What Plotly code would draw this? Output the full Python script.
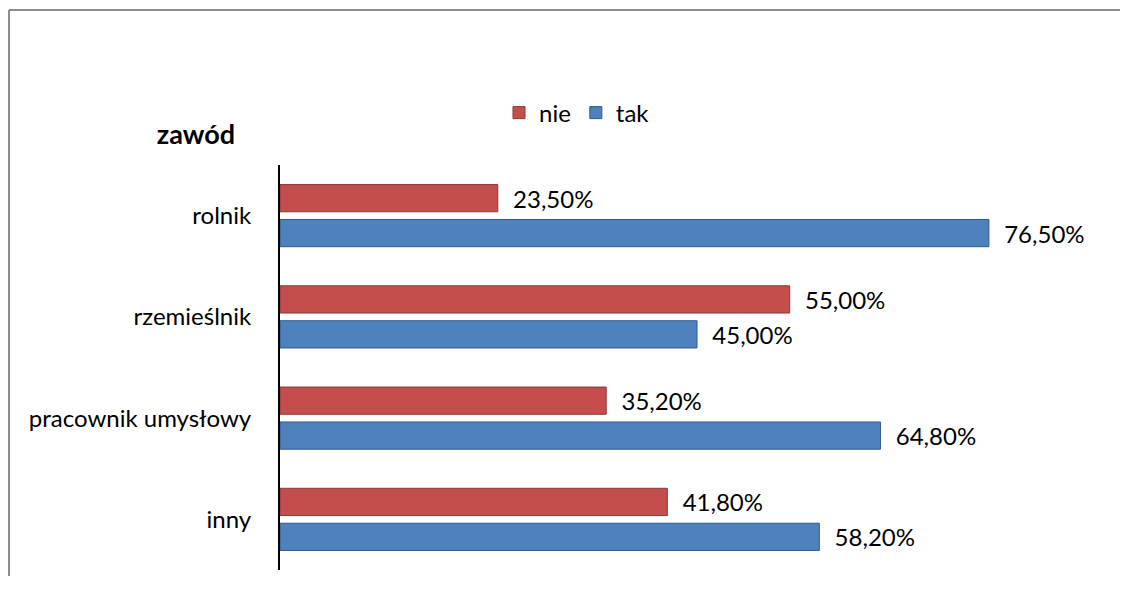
import plotly.graph_objects as go

categories = ["rolnik", "rzemieślnik", "pracownik umysłowy", "inny"]
nie_values = [23.5, 55.0, 35.2, 41.8]
tak_values = [76.5, 45.0, 64.8, 58.2]
series_names = ["nie", "tak"]

FONT = "Lato"
# page has an 8px body margin; keep the figure well inside the window
OFF = 8
W, H = 1132 - 2 * OFF - 4, 592 - 2 * OFF - 8
L, T = 280 - OFF, 165 - OFF
R = W - (1114 - OFF)
B = H - (570 - OFF)
FS = 24

fig = go.Figure()
fig.add_trace(go.Bar(
    y=categories, x=nie_values, name=series_names[0], orientation="h",
    marker=dict(color="#C44E4B", line=dict(color="#8C3836", width=1)),
    texttemplate="\u00a0\u00a0%{x:.2f}%", textposition="outside",
    textfont=dict(family=FONT, size=FS, color="#000000"),
    constraintext="none", cliponaxis=False,
))
fig.add_trace(go.Bar(
    y=categories, x=tak_values, name=series_names[1], orientation="h",
    marker=dict(color="#4F81BD", line=dict(color="#2C5A8E", width=1)),
    texttemplate="\u00a0\u00a0%{x:.2f}%", textposition="outside",
    textfont=dict(family=FONT, size=FS, color="#000000"),
    constraintext="none", cliponaxis=False,
))

pw = W - L - R
ph = H - T - B

bx0 = (1 - L) / pw
bx1 = (W + 20 - L) / pw
by0 = -(B + 20) / ph
by1 = 1 + (T - 2) / ph
border = dict(color="#8C8C8C", width=2)

fig.update_layout(
    width=W, height=H,
    margin=dict(l=L, r=R, t=T, b=B),
    paper_bgcolor="white", plot_bgcolor="white",
    separators=", ",
    barmode="group", bargap=0.31, bargroupgap=0.22,
    font=dict(family=FONT, size=FS, color="#000000"),
    title=dict(text="<b>zawód</b>", x=(196 - OFF) / W, xanchor="center",
               y=1 - (135 - OFF) / H, yanchor="middle",
               font=dict(family=FONT, size=27, color="#000000")),
    legend=dict(orientation="h", x=(499 - OFF - L) / pw, xanchor="left",
                y=1 + (T - (113 - OFF)) / ph, yanchor="middle",
                font=dict(family=FONT, size=FS), itemwidth=30,
                bgcolor="rgba(0,0,0,0)"),
    xaxis=dict(range=[0, 90], showgrid=False, zeroline=False,
               showline=False, showticklabels=False, ticks=""),
    yaxis=dict(autorange="reversed", showline=True, linecolor="#000000",
               linewidth=2, ticks="", showgrid=False,
               tickfont=dict(family=FONT, size=FS, color="#000000"),
               ticklabelstandoff=22),
    shapes=[
        dict(type="line", xref="paper", yref="paper",
             x0=bx0, x1=bx0, y0=by0, y1=by1, line=border, layer="below"),
        dict(type="line", xref="paper", yref="paper",
             x0=bx0, x1=bx1, y0=by1, y1=by1, line=border, layer="below"),
    ],
)

fig.write_html(
    "out.html",
    config={"displayModeBar": False},
    post_script=("document.documentElement.style.overflow='hidden';"
                 "document.body.style.overflow='hidden';"),
)
